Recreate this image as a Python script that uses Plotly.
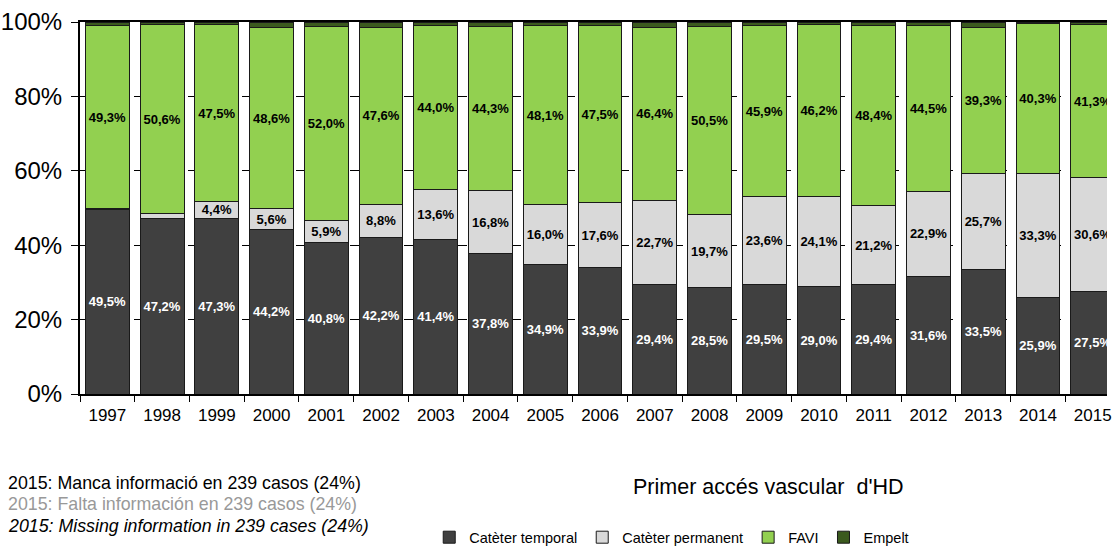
import plotly.graph_objects as go

years = [str(y) for y in range(1997, 2016)]

cateter_temporal = [49.5, 47.2, 47.3, 44.2, 40.8, 42.2, 41.4, 37.8, 34.9, 33.9,
                    29.4, 28.5, 29.5, 29.0, 29.4, 31.6, 33.5, 25.9, 27.5]
cateter_permanent = [0.3, 1.4, 4.4, 5.6, 5.9, 8.8, 13.6, 16.8, 16.0, 17.6,
                     22.7, 19.7, 23.6, 24.1, 21.2, 22.9, 25.7, 33.3, 30.6]
favi = [49.3, 50.6, 47.5, 48.6, 52.0, 47.6, 44.0, 44.3, 48.1, 47.5,
        46.4, 50.5, 45.9, 46.2, 48.4, 44.5, 39.3, 40.3, 41.3]
empelt = [0.9, 0.8, 0.8, 1.6, 1.3, 1.4, 1.0, 1.1, 1.0, 1.0,
          1.5, 1.3, 1.0, 0.7, 1.0, 1.0, 1.5, 0.5, 0.6]

FONT = "Liberation Sans, Arial, sans-serif"


def pct_labels(values, min_show=2.0):
    # etiquetes amb coma decimal, amagades als trams massa petits
    return [f"{v:.1f}%".replace(".", ",") if v >= min_show else "" for v in values]


series = [
    ("Catèter temporal", cateter_temporal, "#404040", "white", True),
    ("Catèter permanent", cateter_permanent, "#D9D9D9", "black", True),
    ("FAVI", favi, "#92D050", "black", True),
    ("Empelt", empelt, "#3B5A1E", "black", False),
]

fig = go.Figure()

for name, vals, color, txtcolor, show_text in series:
    fig.add_trace(go.Bar(
        x=years,
        y=vals,
        name=name,
        marker=dict(color=color, line=dict(color="#1a1a1a", width=1)),
        text=pct_labels(vals) if show_text else None,
        textposition="inside" if show_text else "none",
        insidetextanchor="middle",
        constraintext="none",
        textangle=0,
        textfont=dict(family=FONT, size=13, color=txtcolor, weight="bold"),
    ))

fig.update_layout(
    barmode="stack",
    bargap=0.2,
    width=1112,
    height=546,
    margin=dict(l=80, r=0, t=22, b=152),
    plot_bgcolor="white",
    paper_bgcolor="white",
    font=dict(family=FONT, color="black"),
    showlegend=True,
    legend=dict(
        orientation="h",
        xref="container", yref="container",
        x=0.386, xanchor="left",
        y=0.016, yanchor="middle",
        font=dict(family=FONT, size=14.5, color="black"),
        traceorder="normal",
        itemclick=False,
    ),
)

fig.update_xaxes(
    type="category",
    range=[-0.5, 18.26],
    showline=True, linecolor="black", linewidth=2, mirror=True,
    ticks="outside", tickson="boundaries", ticklen=6, tickcolor="black",
    tickfont=dict(family=FONT, size=17, color="black"),
    ticklabelstandoff=5,
    showgrid=False,
)

fig.update_yaxes(
    range=[0, 100],
    dtick=20,
    ticksuffix="%",
    showline=True, linecolor="black", linewidth=2,
    ticks="outside", ticklen=7, tickcolor="black",
    tickfont=dict(family=FONT, size=24, color="black"),
    ticklabelstandoff=4,
    showgrid=True, gridcolor="black", gridwidth=1, griddash="dash",
    zeroline=False,
)

# títol del gràfic, sota l'eix
fig.add_annotation(
    text="Primer accés vascular  d'HD",
    xref="paper", yref="paper", x=0.67, y=-0.25,
    xanchor="center", yanchor="middle", showarrow=False,
    font=dict(family=FONT, size=21.5, color="black"),
)

# notes sobre la informació que falta
notes = [
    ("2015: Manca informació en 239 casos (24%)", "black", False, -0.240),
    ("2015: Falta información en 239 casos (24%)", "#999999", False, -0.297),
    ("2015: Missing information in 239 cases (24%)", "black", True, -0.356),
]
for txt, col, italic, ypos in notes:
    fig.add_annotation(
        text=f"<i>{txt}</i>" if italic else txt,
        xref="paper", yref="paper", x=-0.072, y=ypos,
        xanchor="left", yanchor="middle", showarrow=False,
        font=dict(family=FONT, size=17.8, color=col),
    )

# treu el marge per defecte del body perquè el gràfic ocupi tota la finestra
fig.write_html(
    "out.html",
    config={"displayModeBar": False},
    post_script="document.body.style.margin = '0';",
)
